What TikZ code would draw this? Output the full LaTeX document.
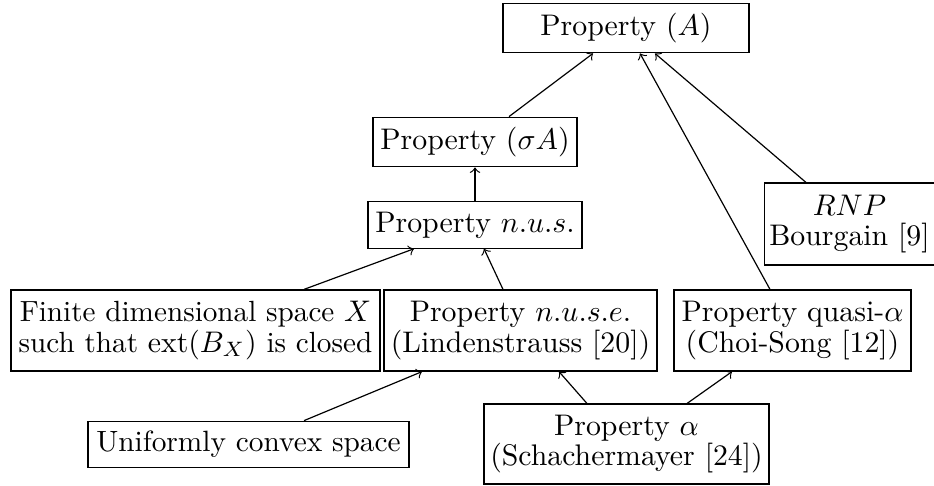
\documentclass[tikz,border=0pt]{standalone}
\begin{document}
\begin{tikzpicture}[x=0.3356pt,y=-0.3356pt,
  box/.style={draw,align=center,inner xsep=1.5pt,inner ysep=3.33pt,font=\fontsize{10}{10.2}\selectfont},
  arr/.style={->}]
\def\u{0.3356pt}
\useasboundingbox (0,0) rectangle (934,485);
\node[box,minimum width=82.6pt,minimum height=16.1pt] (A) at (626,28) {Property $(A)$};
\node[box,minimum width=68.5pt,minimum height=16.1pt] (sA) at (475,142) {Property $(\sigma A)$};
\node[box,minimum width=71.8pt,minimum height=14.8pt] (nus) at (475,225) {Property $n.u.s.$};
\node[box,minimum width=123.8pt,minimum height=27.2pt,font=\fontsize{9.8}{10.2}\selectfont] (fin) at (195.5,330.5) {Finite dimensional space $X$\\ such that $\mathrm{ext}(B_X)$ is closed};
\node[box,minimum width=91.6pt,minimum height=27.2pt] (nuse) at (520.5,330.5) {Property $n.u.s.e.$\\ (Lindenstrauss [20])};
\node[box,minimum width=79.5pt,minimum height=27.2pt] (quasi) at (792.5,330.5) {Property quasi-$\alpha$\\ (Choi-Song [12])};
\node[box,minimum width=56pt,minimum height=27.5pt] (rnp) at (849.5,224) {$RNP$\\ Bourgain [9]};
\node[box,minimum width=107.7pt,minimum height=15.1pt,font=\fontsize{9.85}{10.2}\selectfont] (unif) at (248.5,444.5) {Uniformly convex space};
\node[box,minimum width=95.6pt,minimum height=26.8pt] (alpha) at (626.5,444) {Property $\alpha$\\ (Schachermayer [24])};
\draw[arr] ([xshift={34*\u}]sA.north) -- ([xshift={-33*\u}]A.south);
\draw[arr] ([xshift={-22.5*\u}]quasi.north) -- ([xshift={14*\u}]A.south);
\draw[arr] ([xshift={-43.5*\u}]rnp.north) -- ([xshift={29*\u}]A.south);
\draw[arr] (nus.north) -- (sA.south);
\draw[arr] ([xshift={108.5*\u}]fin.north) -- ([xshift={-61*\u}]nus.south);
\draw[arr] ([xshift={-17.5*\u}]nuse.north) -- ([xshift={9*\u}]nus.south);
\draw[arr] ([xshift={55.5*\u}]unif.north) -- ([xshift={-98.5*\u}]nuse.south);
\draw[arr] ([xshift={-39.5*\u}]alpha.north) -- ([xshift={38.5*\u}]nuse.south);
\draw[arr] ([xshift={60.5*\u}]alpha.north) -- ([xshift={-60.5*\u}]quasi.south);
\end{tikzpicture}
\end{document}
